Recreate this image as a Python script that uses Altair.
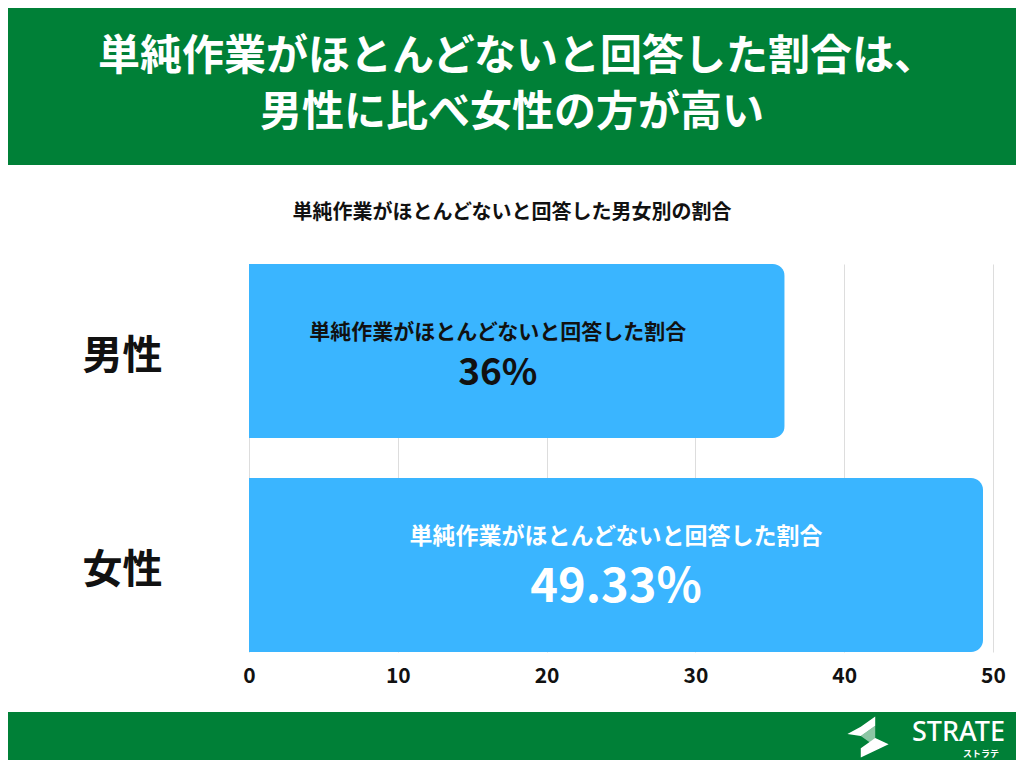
import altair as alt
import pandas as pd

# ---- data ----
genders = ["男性", "女性"]
values = [36, 49.33]
value_labels = ["36%", "49.33%"]
series_name = "単純作業がほとんどないと回答した割合"
text_colors = ["#111111", "#FFFFFF"]
x_ticks = [0, 10, 20, 30, 40, 50]

title_lines = ["単純作業がほとんどないと回答した割合は、", "男性に比べ女性の方が高い"]
subtitle = "単純作業がほとんどないと回答した男女別の割合"

FONT = "Noto Sans CJK JP"
GREEN = "#008037"
BLUE = "#3AB5FF"

df = pd.DataFrame({
    "gender": genders,
    "value": values,
    "vlabel": value_labels,
    "series": [series_name] * len(genders),
    "tc": text_colors,
})

W, H = 744, 388
PAD_L, PAD_T = 241, 256
PAD_R, PAD_B = 23, 108

y_enc = alt.Y("gender:N", sort=genders, title=None,
              scale=alt.Scale(paddingInner=0.187, paddingOuter=0),
              axis=alt.Axis(domain=False, ticks=False, grid=False,
                            labelFontSize=40, labelFontWeight="bold",
                            labelColor="#111111", labelPadding=87,
                            labelFont=FONT, labelAlign="right", labelOffset=6))
x_enc = alt.X("value:Q", title=None,
              scale=alt.Scale(domain=[0, 50], nice=False, zero=True),
              axis=alt.Axis(values=x_ticks, domain=False, ticks=False, grid=True,
                            gridColor="#DDDDDD", gridWidth=1,
                            labelFontSize=21, labelFontWeight="bold",
                            labelColor="#111111", labelPadding=13, labelFont=FONT,
                            labelFlush=False))

base = alt.Chart(df)

bars = base.mark_bar(color=BLUE, cornerRadiusEnd=12).encode(x=x_enc, y=y_enc)

def row_text(g, field, size, dy, dx):
    return base.transform_filter(alt.datum.gender == g).transform_calculate(
        mid="datum.value / 2"
    ).mark_text(font=FONT, fontWeight="bold", fontSize=size, dy=dy, dx=dx,
                baseline="middle", align="center").encode(
        x=alt.X("mid:Q"), y=alt.Y("gender:N", sort=genders),
        text=alt.Text(f"{field}:N"),
        color=alt.Color("tc:N", scale=None),
    )

texts = [
    row_text("男性", "series", 21, -18, -19),
    row_text("男性", "vlabel", 37, 23, -19),
    row_text("女性", "series", 23, -28, 0),
    row_text("女性", "vlabel", 47, 23, 0),
]

# ---- decorations (header / footer) ----
deco_df = pd.DataFrame({"k": [0]})
deco = alt.Chart(deco_df)
header = deco.mark_rect(color=GREEN).encode(
    x=alt.value(-PAD_L), x2=alt.value(W + PAD_R), y=alt.value(-PAD_T), y2=alt.value(-99))
footer = deco.mark_rect(color=GREEN).encode(
    x=alt.value(-PAD_L), x2=alt.value(W + PAD_R), y=alt.value(448), y2=alt.value(H + PAD_B))

t1 = deco.mark_text(font=FONT, fontWeight="bold", fontSize=42, color="white",
                    align="center", baseline="middle").encode(
    x=alt.value(268), y=alt.value(-207), text=alt.value(title_lines[0]))
t2 = deco.mark_text(font=FONT, fontWeight="bold", fontSize=42, color="white",
                    align="center", baseline="middle").encode(
    x=alt.value(263), y=alt.value(-151), text=alt.value(title_lines[1]))
sub = deco.mark_text(font=FONT, fontWeight="bold", fontSize=20, color="#111111",
                     align="center", baseline="middle").encode(
    x=alt.value(263), y=alt.value(-51), text=alt.value(subtitle))

logo_txt = deco.mark_text(font="Noto Sans", fontWeight=500, fontSize=27, color="white",
                          align="right", baseline="alphabetic").encode(
    x=alt.value(756), y=alt.value(477), text=alt.value("STRATE"))
logo_kana = deco.mark_text(font=FONT, fontWeight="bold", fontSize=9, color="white",
                           align="right", baseline="top").encode(
    x=alt.value(750), y=alt.value(486), text=alt.value("ストラテ"))

icon_white = "M0.35,-1 L0.35,-0.55 L-0.35,-0.05 L-0.35,-0.5 Z M-1,-0.15 L-0.35,-0.5 L-0.35,-0.05 Z M0.35,0.05 L1,0.35 L-0.35,1 L-0.35,0.55 Z"
icon_light = "M-0.35,-0.05 L0.35,0.05 L0.35,0.45 Z M-0.35,-0.05 L0.35,-0.55 L0.35,0.05 Z"
icon1 = deco.mark_point(shape=icon_white, filled=True, color="white", size=1700, opacity=1,
                        strokeWidth=0).encode(x=alt.value(619), y=alt.value(473))
icon2 = deco.mark_point(shape=icon_light, filled=True, color="white", size=1700, opacity=0.55,
                        strokeWidth=0).encode(x=alt.value(619), y=alt.value(473))

chart = alt.layer(
    header, footer, t1, t2, sub, bars, *texts, icon2, icon1, logo_txt, logo_kana
).properties(
    width=W, height=H,
    padding={"left": PAD_L, "top": PAD_T, "right": PAD_R, "bottom": PAD_B},
    autosize=alt.AutoSizeParams(type="none"),
    background="white",
).configure_view(stroke=None)

chart.save("out.html", embed_options={"renderer": "svg", "actions": False})
